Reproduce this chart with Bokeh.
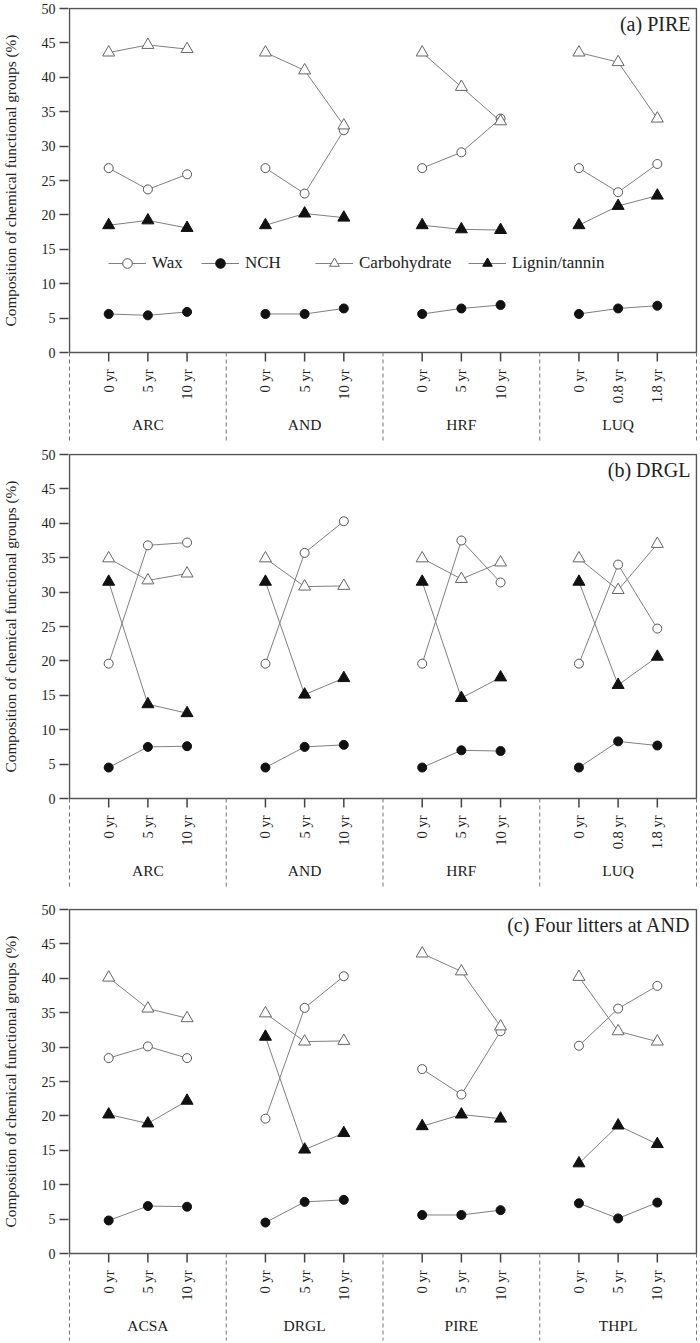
import math
import numpy as np
from bokeh.plotting import figure
from bokeh.models import Range1d, FixedTicker, Label, Legend, LegendItem
from bokeh.layouts import column, row
from bokeh.core.properties import value
from bokeh.embed import file_html
from bokeh.resources import INLINE

FONT = "Liberation Serif"
FONT_V = value(FONT)

series_names = ["Wax", "NCH", "Carbohydrate", "Lignin/tannin"]

# ---- Panel (a): PIRE litter at four sites ----
a_title = "(a) PIRE"
a_groups = ["ARC", "AND", "HRF", "LUQ"]
a_times = ["0 yr", "5 yr", "10 yr", "0 yr", "5 yr", "10 yr",
           "0 yr", "5 yr", "10 yr", "0 yr", "0.8 yr", "1.8 yr"]
a_wax = [26.8, 23.7, 25.9, 26.8, 23.1, 32.3, 26.8, 29.1, 34.0, 26.8, 23.3, 27.4]
a_nch = [5.6, 5.4, 5.9, 5.6, 5.6, 6.4, 5.6, 6.4, 6.9, 5.6, 6.4, 6.8]
a_carb = [43.6, 44.7, 44.1, 43.6, 41.0, 33.0, 43.6, 38.6, 33.6, 43.6, 42.2, 34.0]
a_lig = [18.5, 19.2, 18.1, 18.5, 20.2, 19.6, 18.5, 17.9, 17.8, 18.5, 21.3, 22.8]

# ---- Panel (b): DRGL litter at four sites ----
b_title = "(b) DRGL"
b_groups = ["ARC", "AND", "HRF", "LUQ"]
b_times = ["0 yr", "5 yr", "10 yr", "0 yr", "5 yr", "10 yr",
           "0 yr", "5 yr", "10 yr", "0 yr", "0.8 yr", "1.8 yr"]
b_wax = [19.6, 36.8, 37.2, 19.6, 35.7, 40.3, 19.6, 37.5, 31.4, 19.6, 34.0, 24.7]
b_nch = [4.5, 7.5, 7.6, 4.5, 7.5, 7.8, 4.5, 7.0, 6.9, 4.5, 8.3, 7.7]
b_carb = [34.9, 31.7, 32.7, 34.9, 30.8, 30.9, 34.9, 31.9, 34.3, 34.9, 30.3, 37.0]
b_lig = [31.5, 13.7, 12.4, 31.5, 15.1, 17.5, 31.5, 14.6, 17.6, 31.5, 16.5, 20.6]

# ---- Panel (c): four litters at AND ----
c_title = "(c) Four litters at AND"
c_groups = ["ACSA", "DRGL", "PIRE", "THPL"]
c_times = ["0 yr", "5 yr", "10 yr"] * 4
c_wax = [28.4, 30.1, 28.4, 19.6, 35.7, 40.3, 26.8, 23.1, 32.3, 30.2, 35.6, 38.9]
c_nch = [4.8, 6.9, 6.8, 4.5, 7.5, 7.8, 5.6, 5.6, 6.3, 7.3, 5.1, 7.4]
c_carb = [40.1, 35.6, 34.2, 34.9, 30.8, 30.9, 43.6, 41.0, 33.0, 40.2, 32.3, 30.8]
c_lig = [20.2, 18.9, 22.2, 31.5, 15.1, 17.5, 18.5, 20.2, 19.6, 13.1, 18.6, 15.9]

y_ticks = list(range(0, 51, 5))
Y_LO, Y_HI = 0, 50
Y_LABEL = "Composition of chemical functional groups (%)"

STYLES = {
    "Wax": dict(marker="circle", fill_color="white", line_color="#555555", size=9),
    "NCH": dict(marker="circle", fill_color="#111111", line_color="#111111", size=9),
    "Carbohydrate": dict(marker="triangle", fill_color="white", line_color="#666666", size=12),
    "Lignin/tannin": dict(marker="triangle", fill_color="#111111", line_color="#111111", size=12),
}

LAB_W = 24             # width of the strip holding the y-axis title
FIG_W = 674            # width of each chart figure
BORDER_L = 44
BORDER_R = 1
PLOT_PX = 344          # pixel height of the 0..50 data box
TEXT = "#222222"


def with_breaks(pos, vals, per):
    xs, ys = [], []
    for k, (x, y) in enumerate(zip(pos, vals)):
        if k and k % per == 0:
            xs.append(np.nan)
            ys.append(np.nan)
        xs.append(x)
        ys.append(y)
    return np.array(xs, dtype=float), np.array(ys, dtype=float)


def make_panel(title, groups, times, data, height, top, sep_len, legend=False):
    per = len(times) // len(groups)
    n_units = len(groups) * (per + 1)
    pos = [(per + 1) * g + 1 + i for g in range(len(groups)) for i in range(per)]
    seps = [g * (per + 1) for g in range(len(groups) + 1)]
    centers = [g * (per + 1) + (per + 1) / 2 for g in range(len(groups))]

    frame_h = height - top - 1
    frame_w = FIG_W - BORDER_L - BORDER_R
    ky = PLOT_PX / (Y_HI - Y_LO)              # px per y unit
    kx = (frame_w - 2) / n_units               # px per x unit
    below_px = frame_h - 1 - PLOT_PX           # px of frame under y=0
    y_range = Range1d(Y_LO - below_px / ky, Y_HI + 1 / ky)
    x_range = Range1d(-1 / kx, n_units + 1 / kx)

    p = figure(width=FIG_W, height=height, x_range=x_range, y_range=y_range,
               output_backend="svg", toolbar_location=None, x_axis_location=None,
               min_border_left=BORDER_L, min_border_right=BORDER_R, min_border_top=top,
               min_border_bottom=1)
    p.xgrid.visible = False
    p.ygrid.visible = False
    p.outline_line_color = None
    p.background_fill_color = "white"
    p.border_fill_color = "white"

    yax = p.yaxis[0]
    yax.ticker = FixedTicker(ticks=y_ticks)
    yax.major_tick_out = 9
    yax.major_tick_in = 0
    yax.minor_tick_out = 0
    yax.minor_tick_in = 0
    yax.axis_line_color = None
    yax.major_tick_line_color = "#444444"
    yax.major_tick_line_width = 1.5
    yax.major_label_text_font = FONT
    yax.major_label_text_font_size = "14px"
    yax.major_label_text_color = TEXT
    yax.major_label_standoff = 4

    # data box
    p.quad(left=[0], right=[n_units], bottom=[Y_LO], top=[Y_HI], fill_color=None,
           line_color="#555555", line_width=1.5)

    # x ticks, separators and labels under the box
    p.segment(x0=pos, y0=[Y_LO] * len(pos), x1=pos, y1=[Y_LO - 9 / ky] * len(pos),
              line_color="#444444", line_width=1.5)
    p.segment(x0=seps, y0=[Y_LO] * len(seps), x1=seps, y1=[Y_LO - sep_len / ky] * len(seps),
              line_color="#777777", line_width=1, line_dash="4 3")
    p.text(x=pos, y=[Y_LO] * len(pos), text=times, angle=math.pi / 2, y_offset=17,
           text_align="right", text_baseline="middle", text_font=FONT_V,
           text_font_size="14.5px", text_color=TEXT)
    p.text(x=centers, y=[Y_LO] * len(centers), text=groups, y_offset=72,
           text_align="center", text_baseline="middle", text_font=FONT_V,
           text_font_size="15.5px", text_color=TEXT)

    renderers = {}
    for name, vals in zip(series_names, data):
        st = STYLES[name]
        xs, ys = with_breaks(pos, vals, per)
        lr = p.line(xs, ys, line_color="#808080", line_width=1)
        sr = p.scatter(xs, ys, marker=st["marker"], size=st["size"],
                       fill_color=st["fill_color"], line_color=st["line_color"], line_width=1)
        renderers[name] = (lr, sr)

    p.add_layout(Label(x=n_units, y=Y_HI, x_offset=-6, y_offset=-15, text=title,
                       text_align="right", text_baseline="middle", text_font=FONT,
                       text_font_size="20px", text_color=TEXT))

    if legend:
        legend_x = [40, 133, 247, 400]
        for name, lx in zip(series_names, legend_x):
            lg = Legend(items=[LegendItem(label=name, renderers=list(renderers[name]))],
                        location=(lx, below_px + 77), orientation="horizontal",
                        glyph_width=38, glyph_height=24, label_height=24,
                        label_standoff=6, padding=0, margin=0, spacing=0,
                        background_fill_alpha=0, border_line_color=None,
                        label_text_font=FONT, label_text_font_size="17px",
                        label_text_color=TEXT)
            p.add_layout(lg)

    # narrow strip to the left carrying the y-axis title, sharing the y range
    lab = figure(width=LAB_W, height=height, x_range=Range1d(0, LAB_W), y_range=y_range,
                 output_backend="svg", toolbar_location=None,
                 x_axis_location=None, y_axis_location=None,
                 min_border_left=0, min_border_right=0, min_border_top=top,
                 min_border_bottom=1)
    for g in lab.grid:
        g.visible = False
    lab.xgrid.visible = False
    lab.ygrid.visible = False
    lab.outline_line_color = None
    lab.background_fill_color = "white"
    lab.border_fill_color = "white"
    lab.text(x=[LAB_W * 0.42], y=[(Y_LO + Y_HI) / 2], text=[Y_LABEL], angle=math.pi / 2,
             text_align="center", text_baseline="middle", text_font=FONT_V,
             text_font_size="15.25px", text_color=TEXT)
    return row(lab, p, spacing=0)


r1 = make_panel(a_title, a_groups, a_times, [a_wax, a_nch, a_carb, a_lig],
                height=446, top=7, sep_len=88, legend=True)
r2 = make_panel(b_title, b_groups, b_times, [b_wax, b_nch, b_carb, b_lig],
                height=455, top=7, sep_len=88)
r3 = make_panel(c_title, c_groups, c_times, [c_wax, c_nch, c_carb, c_lig],
                height=440, top=7, sep_len=90)

layout = column(r1, r2, r3, spacing=0)
open("out.html", "w").write(file_html(layout, INLINE))
